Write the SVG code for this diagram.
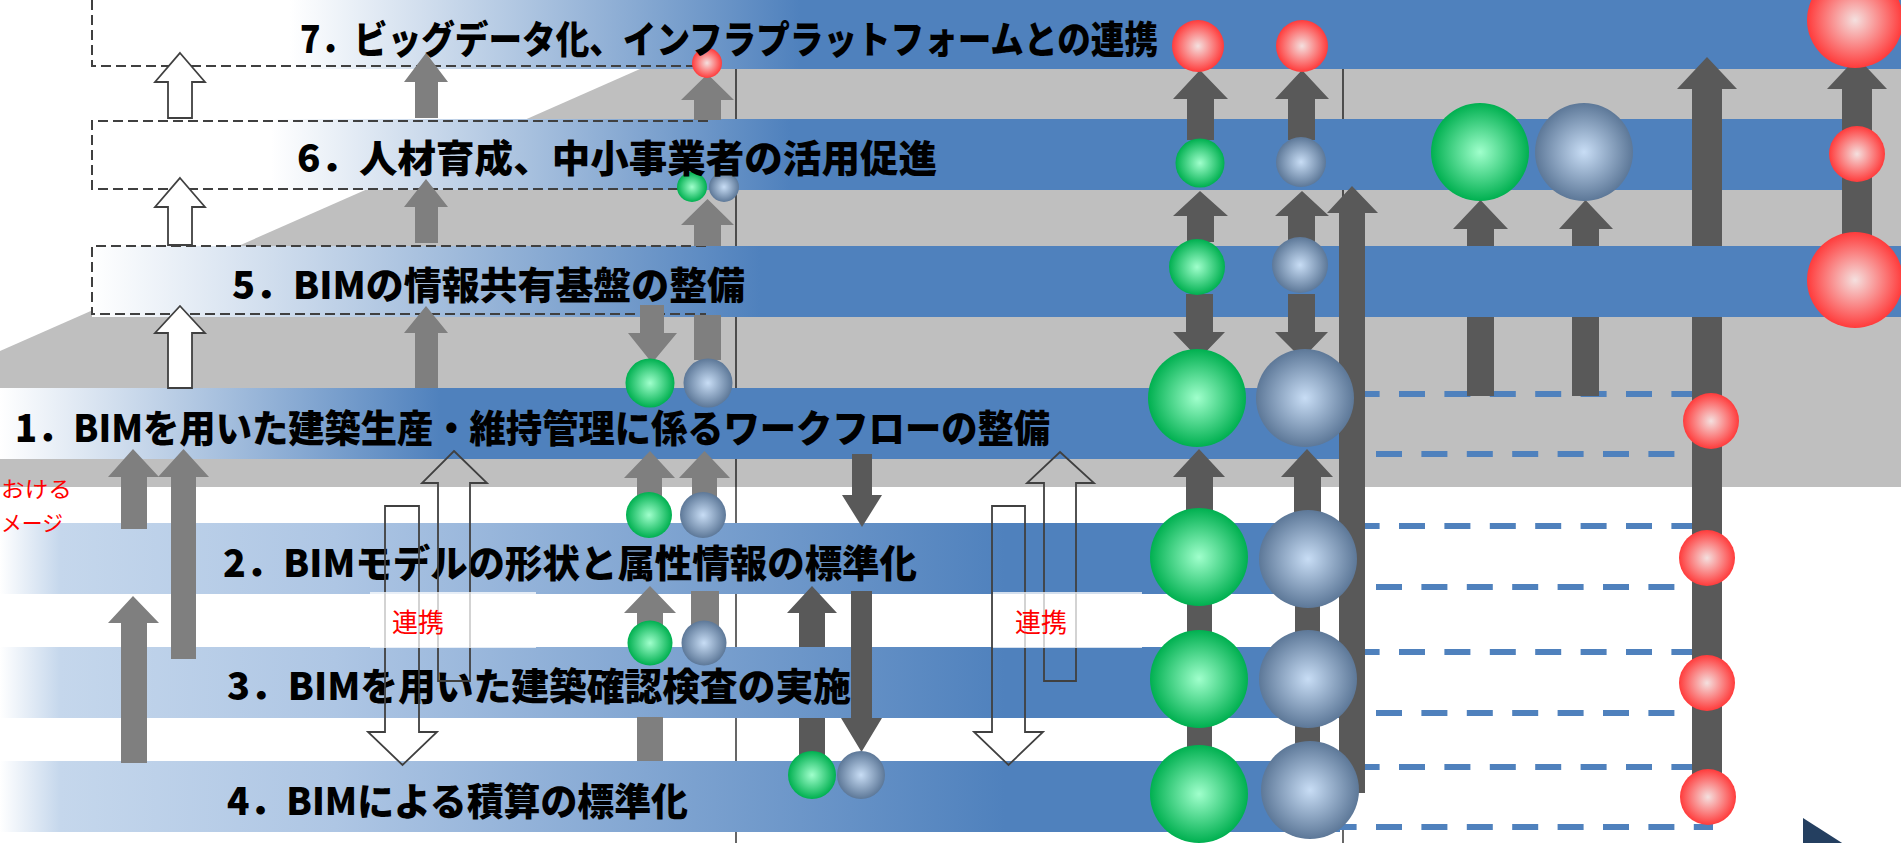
<svg xmlns="http://www.w3.org/2000/svg" width="1901" height="843" viewBox="0 0 1901 843">
<defs>
<style>
.lbl{font-family:'Noto Sans CJK JP','Noto Sans',sans-serif;font-weight:900;font-size:38px;fill:#000}
.red{font-family:'Noto Sans CJK JP','Noto Sans',sans-serif;font-size:26px;fill:#ff0000}
.side{font-family:'Noto Sans CJK JP','Noto Sans',sans-serif;font-size:22px;fill:#ff0000}
.ga{fill:#7f7f7f}
.da{fill:#595959}
.wa{fill:#ffffff;stroke:#404040;stroke-width:1.8}
.la{fill:none;stroke:#404040;stroke-width:1.8}
.box{fill:none;stroke:#404040;stroke-width:2;stroke-dasharray:10 5}
.bd{fill:none;stroke:#4f81bd;stroke-width:6;stroke-dasharray:26 19.4}
.vl{stroke:#000;stroke-width:1.2}
.gc{fill:url(#gG)}
.bc{fill:url(#gB)}
.rc{fill:url(#gR)}
</style>
<linearGradient id="g1" gradientUnits="userSpaceOnUse" x1="0" y1="0" x2="440" y2="0"><stop offset="0" stop-color="#ffffff"/><stop offset="1" stop-color="#4f81bd"/></linearGradient>
<linearGradient id="g2" gradientUnits="userSpaceOnUse" x1="0" y1="0" x2="1340" y2="0"><stop offset="0" stop-color="#ffffff"/><stop offset="0.045" stop-color="#c5d7ec"/><stop offset="0.25" stop-color="#aec6e4"/><stop offset="0.75" stop-color="#4f81bd"/><stop offset="1" stop-color="#4f81bd"/></linearGradient>
<linearGradient id="g5" gradientUnits="userSpaceOnUse" x1="92" y1="0" x2="760" y2="0"><stop offset="0" stop-color="#ffffff"/><stop offset="1" stop-color="#4f81bd"/></linearGradient>
<linearGradient id="g6" gradientUnits="userSpaceOnUse" x1="271" y1="0" x2="790" y2="0"><stop offset="0" stop-color="#ffffff"/><stop offset="1" stop-color="#4f81bd"/></linearGradient>
<linearGradient id="g7" gradientUnits="userSpaceOnUse" x1="290" y1="0" x2="800" y2="0"><stop offset="0" stop-color="#ffffff"/><stop offset="1" stop-color="#4f81bd"/></linearGradient>
<radialGradient id="gG"><stop offset="0" stop-color="#a0ffcc"/><stop offset="1" stop-color="#00b050"/></radialGradient>
<radialGradient id="gB"><stop offset="0" stop-color="#c8ddf5"/><stop offset="1" stop-color="#5d7898"/></radialGradient>
<radialGradient id="gR"><stop offset="0" stop-color="#f4e0df"/><stop offset="1" stop-color="#ff3b3b"/></radialGradient>
</defs>
<rect width="1901" height="843" fill="#ffffff"/>
<g id="floor">
<polygon points="640,69 1901,69 1901,487 0,487 0,351" fill="#bfbfbf"/>
<line class="vl" x1="736" y1="69" x2="736" y2="843"/>
<line class="vl" x1="1343" y1="69" x2="1343" y2="843"/>
</g>
<g id="timeline-dashes">
<line class="bd" x1="1353.6" y1="394" x2="1697" y2="394"/>
<line class="bd" x1="1376" y1="454" x2="1675" y2="454"/>
<line class="bd" x1="1353.6" y1="526" x2="1697" y2="526"/>
<line class="bd" x1="1376" y1="587" x2="1675" y2="587"/>
<line class="bd" x1="1353.6" y1="652" x2="1697" y2="652"/>
<line class="bd" x1="1376" y1="713" x2="1675" y2="713"/>
<line class="bd" x1="1353.6" y1="767" x2="1697" y2="767"/>
<line class="bd" x1="1330.6" y1="827" x2="1713" y2="827"/>
</g>
<g id="row7"><rect x="92" y="-2" width="1811" height="71" fill="url(#g7)"/></g>
<g id="row6"><rect x="92" y="119" width="1750" height="71" fill="url(#g6)"/></g>
<g id="connectors-back">
<path class="da" d="M1707,57 L1737,89 L1722,89 L1722,777 L1692,777 L1692,89 L1677,89Z"/>
<path class="da" d="M1480.5,200 L1508,229 L1494,229 L1494,396 L1467,396 L1467,229 L1453,229Z"/>
<path class="da" d="M1585.5,200 L1613,229 L1599,229 L1599,396 L1572,396 L1572,229 L1559,229Z"/>
</g>
<g id="row5"><rect x="92" y="246" width="1811" height="71" fill="url(#g5)"/></g>
<g id="row1"><rect x="0" y="388" width="1340" height="71" fill="url(#g1)"/></g>
<g id="row2"><rect x="0" y="523" width="1340" height="71" fill="url(#g2)"/></g>
<g id="row3"><rect x="0" y="647" width="1340" height="71" fill="url(#g2)"/></g>
<g id="row4"><rect x="0" y="761" width="1340" height="71" fill="url(#g2)"/></g>
<g id="future-boxes">
<path class="box" d="M92,0 V66 H706"/>
<path class="box" d="M708,121 H92 V189 H706"/>
<path class="box" d="M706,246 H92 V314 H706"/>
</g>
<g id="connectors">
<path class="wa" d="M180,53 L205,82 L192,82 L192,118 L168,118 L168,82 L155,82Z"/>
<path class="wa" d="M180,178 L205,207 L192,207 L192,245 L168,245 L168,207 L155,207Z"/>
<path class="wa" d="M180,306 L205,333 L192,333 L192,388 L168,388 L168,333 L155,333Z"/>
<path class="ga" d="M426,53 L448,82 L438,82 L438,118 L415,118 L415,82 L404,82Z"/>
<path class="ga" d="M426,179 L448,207 L438,207 L438,243 L415,243 L415,207 L404,207Z"/>
<path class="ga" d="M426,306 L448,333 L438,333 L438,388 L415,388 L415,333 L404,333Z"/>
<path class="ga" d="M707.5,74 L734,100 L721,100 L721,120 L694,120 L694,100 L681,100Z"/>
<path class="ga" d="M707.5,199 L734,225 L721,225 L721,246 L694,246 L694,225 L681,225Z"/>
<rect class="ga" x="694" y="315" width="27" height="45"/>
<path class="ga" d="M640,305 L664,305 L664,333 L677,333 L652,363 L628,333 L640,333Z"/>
<path class="ga" d="M650,451 L675,478 L662,478 L662,500 L637,500 L637,478 L624,478Z"/>
<path class="ga" d="M704.5,451 L730,478 L717,478 L717,500 L692,500 L692,478 L679,478Z"/>
<path class="ga" d="M650,586 L676,613 L663,613 L663,630 L637,630 L637,613 L624,613Z"/>
<rect class="ga" x="691" y="591" width="28" height="39"/>
<rect class="ga" x="637" y="717" width="26" height="44"/>
<path class="ga" d="M133,449 L159,477 L147,477 L147,529 L121,529 L121,477 L108,477Z"/>
<path class="ga" d="M183.5,449 L209,477 L196,477 L196,659 L171,659 L171,477 L158,477Z"/>
<path class="ga" d="M133,596 L159,623 L147,623 L147,763 L121,763 L121,623 L108,623Z"/>
<path class="da" d="M852,454 L872,454 L872,495 L882,495 L862,527 L842,495 L852,495Z"/>
<path class="da" d="M812,586 L837,613 L825,613 L825,647 L799,647 L799,613 L787,613Z"/>
<rect class="da" x="799" y="718" width="26" height="42"/>
<path class="da" d="M851,591 L872,591 L872,718 L882,718 L861.5,752 L841,718 L851,718Z"/>
<path class="da" d="M1200,70 L1228,99 L1214,99 L1214,140 L1187,140 L1187,99 L1173,99Z"/>
<path class="da" d="M1302,70 L1329,99 L1315,99 L1315,140 L1288,140 L1288,99 L1275,99Z"/>
<path class="da" d="M1200,191 L1228,216 L1214,216 L1214,242 L1187,242 L1187,216 L1173,216Z"/>
<path class="da" d="M1302,191 L1329,216 L1315,216 L1315,242 L1288,242 L1288,216 L1275,216Z"/>
<path class="da" d="M1186,294 L1213,294 L1213,332 L1225,332 L1199,359 L1173,332 L1186,332Z"/>
<path class="da" d="M1288,294 L1315,294 L1315,332 L1328,332 L1302,359 L1275,332 L1288,332Z"/>
<path class="da" d="M1199,449 L1225,477 L1213,477 L1213,512 L1186,512 L1186,477 L1173,477Z"/>
<path class="da" d="M1307,449 L1333,477 L1321,477 L1321,514 L1294,514 L1294,477 L1281,477Z"/>
<rect class="da" x="1187" y="600" width="25" height="150"/>
<rect class="da" x="1295" y="600" width="25" height="150"/>
<path class="da" d="M1352,186 L1378,213 L1365,213 L1365,793 L1339,793 L1339,213 L1327,213Z"/>
<path class="da" d="M1857,57 L1887,89 L1872,89 L1872,240 L1842,240 L1842,89 L1827,89Z"/>
</g>
<g id="markers">
<circle class="rc" cx="707" cy="63" r="15"/>
<circle class="gc" cx="692" cy="187" r="15"/>
<circle class="bc" cx="724" cy="187" r="15"/>
<circle class="gc" cx="650" cy="383" r="24.5"/>
<circle class="bc" cx="708" cy="383" r="24.5"/>
<circle class="gc" cx="649" cy="515" r="23"/>
<circle class="bc" cx="703" cy="515" r="23"/>
<circle class="gc" cx="650" cy="643" r="22.5"/>
<circle class="bc" cx="704" cy="643" r="22.5"/>
<circle class="gc" cx="812" cy="775" r="24"/>
<circle class="bc" cx="861" cy="775" r="24"/>
<circle class="rc" cx="1198" cy="46" r="26"/>
<circle class="rc" cx="1302" cy="46" r="26"/>
<circle class="gc" cx="1200" cy="163" r="24.5"/>
<circle class="bc" cx="1301" cy="162" r="25"/>
<circle class="gc" cx="1197" cy="267" r="28"/>
<circle class="bc" cx="1300" cy="265" r="28"/>
<circle class="gc" cx="1197" cy="398" r="49"/>
<circle class="bc" cx="1305" cy="398" r="49"/>
<circle class="gc" cx="1199" cy="557" r="49"/>
<circle class="bc" cx="1308" cy="559" r="49"/>
<circle class="gc" cx="1199" cy="679" r="49"/>
<circle class="bc" cx="1308" cy="679" r="49"/>
<circle class="gc" cx="1199" cy="794" r="49"/>
<circle class="bc" cx="1310" cy="790" r="49"/>
<circle class="gc" cx="1480" cy="152" r="49"/>
<circle class="bc" cx="1584" cy="152" r="49"/>
<circle class="rc" cx="1711" cy="421" r="28"/>
<circle class="rc" cx="1707" cy="558" r="28"/>
<circle class="rc" cx="1707" cy="683" r="28"/>
<circle class="rc" cx="1708" cy="797" r="28"/>
<circle class="rc" cx="1855" cy="20" r="48"/>
<circle class="rc" cx="1857" cy="154" r="28"/>
<circle class="rc" cx="1855" cy="280" r="48"/>
</g>
<g id="labels">
<text class="lbl" x="300" y="53" textLength="858" lengthAdjust="spacingAndGlyphs">7．ビッグデータ化、インフラプラットフォームとの連携</text>
<text class="lbl" x="297" y="172" textLength="640" lengthAdjust="spacingAndGlyphs">6．人材育成、中小事業者の活用促進</text>
<text class="lbl" x="232" y="299" textLength="513" lengthAdjust="spacingAndGlyphs">5．BIMの情報共有基盤の整備</text>
<text class="lbl" x="15" y="442" textLength="1035" lengthAdjust="spacingAndGlyphs">1．BIMを用いた建築生産・維持管理に係るワークフローの整備</text>
<text class="lbl" x="223" y="577" textLength="694" lengthAdjust="spacingAndGlyphs">2．BIMモデルの形状と属性情報の標準化</text>
<text class="lbl" x="227" y="700" textLength="624" lengthAdjust="spacingAndGlyphs">3．BIMを用いた建築確認検査の実施</text>
<text class="lbl" x="227" y="815" textLength="461" lengthAdjust="spacingAndGlyphs">4．BIMによる積算の標準化</text>
<text class="side" x="1" y="497" textLength="71" lengthAdjust="spacingAndGlyphs">おける</text>
<text class="side" x="1" y="531" textLength="62" lengthAdjust="spacingAndGlyphs">メージ</text>
</g>
<g id="links">
<path class="la" d="M454,451 L487,483 L470,483 L470,681 L438,681 L438,483 L422,483Z"/>
<path class="la" d="M385,506 L419,506 L419,732 L437,732 L402.5,765 L368,732 L385,732Z"/>
<path class="la" d="M1060,452 L1094,483 L1076,483 L1076,681 L1044,681 L1044,483 L1027,483Z"/>
<path class="la" d="M992,506 L1025,506 L1025,732 L1043,732 L1008.5,765 L974,732 L992,732Z"/>
<rect x="370" y="592" width="166" height="56" fill="#ffffff" fill-opacity="0.75"/>
<rect x="993" y="592" width="149" height="56" fill="#ffffff" fill-opacity="0.75"/>
<text class="red" x="418" y="632" text-anchor="middle">連携</text>
<text class="red" x="1041" y="632" text-anchor="middle">連携</text>
</g>
<g id="corner"><polygon points="1803,818 1850,848 1803,848" fill="#243f60"/></g>
</svg>
